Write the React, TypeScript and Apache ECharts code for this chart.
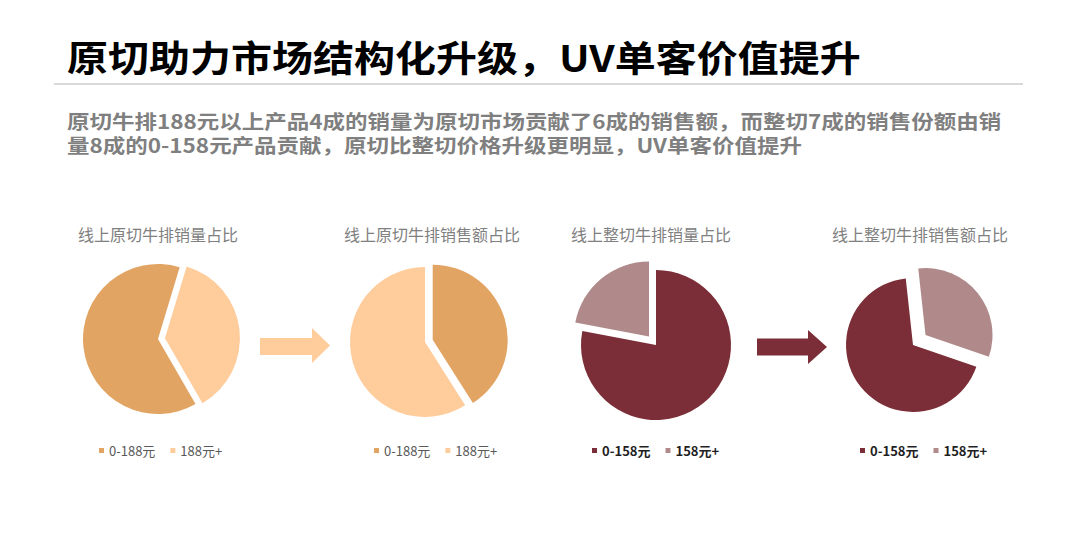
import React, { useEffect, useRef } from "react";
import * as echarts from "echarts";

const mainTitle = "原切助力市场结构化升级，UV单客价值提升";
const subtitleLines = [
  "原切牛排188元以上产品4成的销量为原切市场贡献了6成的销售额，而整切7成的销售份额由销",
  "量8成的0-158元产品贡献，原切比整切价格升级更明显，UV单客价值提升",
];
const pieTitles = ["线上原切牛排销量占比", "线上原切牛排销售额占比", "线上整切牛排销量占比", "线上整切牛排销售额占比"];
const yuanqieNames = ["0-188元", "188元+"];
const zhengqieNames = ["0-158元", "158元+"];
const pie1Values = [63, 37];
const pie2Values = [41, 59];
const pie3Values = [78, 22];
const pie4Values = [68, 32];

const ORANGE_DARK = "#E2A463";
const ORANGE_LIGHT = "#FFCC9C";
const MAROON_DARK = "#7B2E37";
const MAROON_LIGHT = "#B08A8A";
const FONT = "'Noto Sans CJK SC', 'Noto Sans', sans-serif";

function makePie(
  names: string[],
  values: number[],
  colors: string[],
  selectedIdx: number,
  center: number[],
  radius: number,
  startAngle: number,
  offset: number
) {
  return {
    type: "pie",
    center,
    radius,
    startAngle,
    clockwise: true,
    selectedMode: "single",
    selectedOffset: offset,
    label: { show: false },
    labelLine: { show: false },
    emphasis: { scale: false },
    itemStyle: { borderWidth: 0 },
    data: names.map((n, i) => ({
      name: n,
      value: values[i],
      selected: i === selectedIdx,
      itemStyle: { color: colors[i], borderWidth: 0 },
      select: { itemStyle: { color: colors[i], borderWidth: 0 } },
    })),
  };
}

export default function App() {
  const ref = useRef<HTMLDivElement>(null);
  useEffect(() => {
    if (!ref.current) return;
    const chart = echarts.init(ref.current, undefined, { renderer: "svg" });
    const legendBase = (names: string[], left: number, bold: boolean) => ({
      data: names,
      left,
      top: 444,
      padding: 0,
      icon: "rect",
      itemWidth: 5,
      itemHeight: 5,
      itemGap: 15,
      selectedMode: false,
      textStyle: {
        fontFamily: FONT,
        fontSize: 13,
        color: bold ? "#1F1F1F" : "#595959",
        fontWeight: bold ? "bold" : "normal",
      },
    });
    const pieTitleX = [158, 432, 651, 920];
    const option: any = {
      animation: false,
      backgroundColor: "#ffffff",
      legend: [
        legendBase(yuanqieNames, 99, false),
        legendBase(yuanqieNames, 374, false),
        legendBase(zhengqieNames, 592, true),
        legendBase(zhengqieNames, 860, true),
      ],
      series: [
        makePie(yuanqieNames, pie1Values, [ORANGE_DARK, ORANGE_LIGHT], 1, [158, 339], 75, -60, 7),
        makePie(yuanqieNames, pie2Values, [ORANGE_DARK, ORANGE_LIGHT], 0, [425, 342], 75, 90, 8),
        makePie(zhengqieNames, pie3Values, [MAROON_DARK, MAROON_LIGHT], 1, [656, 345], 75, 90, 11),
        makePie(zhengqieNames, pie4Values, [MAROON_DARK, MAROON_LIGHT], 1, [913, 345], 67, -19, 16),
      ],
      graphic: [
        {
          type: "text",
          x: 67,
          y: 56,
          scaleY: 0.9,
          style: {
            text: mainTitle,
            fontFamily: FONT,
            fontSize: 41,
            fontWeight: "bold",
            fill: "#000000",
            verticalAlign: "middle",
          },
        },
        {
          type: "line",
          shape: { x1: 54, y1: 84, x2: 1023, y2: 84 },
          style: { stroke: "#D9D9D9", lineWidth: 2 },
        },
        ...subtitleLines.map((t, i) => ({
          type: "text",
          x: 67,
          y: 121 + i * 23.8,
          scaleY: 0.87,
          style: {
            text: t,
            fontFamily: FONT,
            fontSize: 22.5,
            fontWeight: "bold",
            fill: "#7F7F7F",
            verticalAlign: "middle",
          },
        })),
        ...pieTitles.map((t, i) => ({
          type: "text",
          x: pieTitleX[i],
          y: 234,
          style: {
            text: t,
            fontFamily: FONT,
            fontSize: 16,
            fill: "#808080",
            align: "center",
            verticalAlign: "middle",
          },
        })),
        {
          type: "polygon",
          shape: {
            points: [
              [260, 338], [312, 338], [312, 328], [330, 345.5], [312, 363], [312, 355], [260, 355],
            ],
          },
          style: { fill: ORANGE_LIGHT },
        },
        {
          type: "polygon",
          shape: {
            points: [
              [757, 338.5], [808, 338.5], [808, 330], [827, 347], [808, 364], [808, 355.5], [757, 355.5],
            ],
          },
          style: { fill: MAROON_DARK },
        },
      ],
    };
    chart.setOption(option);
    return () => chart.dispose();
  }, []);
  return (
    <div
      ref={ref}
      style={{ position: "absolute", left: 0, top: 0, width: 1080, height: 543, background: "#fff" }}
    />
  );
}
